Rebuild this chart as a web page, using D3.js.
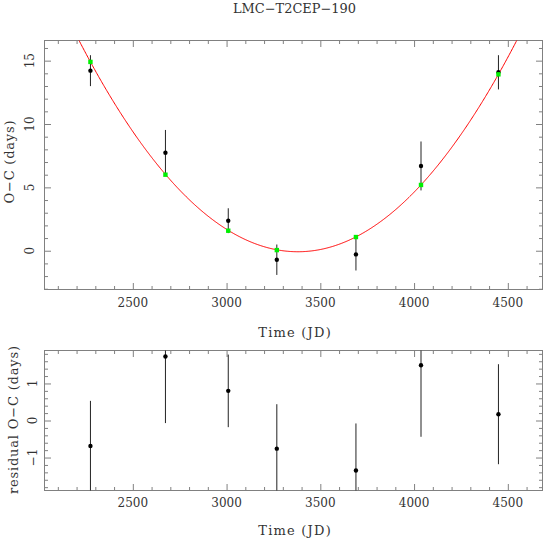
<!DOCTYPE html>
<html>
<head>
<meta charset="utf-8">
<script src="https://cdn.jsdelivr.net/npm/d3@7"></script>
<style>
  html, body { margin: 0; padding: 0; background: #fff; }
  svg text { font-family: "DejaVu Serif", serif; fill: #333; }
</style>
</head>
<body>
<svg id="chart" width="546" height="542"></svg>
<script>
// ---- data ----
const title = "LMC\u2212T2CEP\u2212190";
const times = [2274, 2674, 3009, 3268, 3690, 4037, 4450];          // JD
const ocValues = [14.21, 7.73, 2.37, -0.71, -0.29, 6.69, 14.08];   // O-C (days)
const ocErrors = [1.22, 1.80, 0.98, 1.20, 1.27, 1.93, 1.35];       // error bar half-length
const modelValues = [14.90, 6.00, 1.58, 0.05, 1.08, 5.19, 13.92];  // fitted values (green)
const residuals = [-0.69, 1.73, 0.80, -0.76, -1.35, 1.49, 0.17];   // residual O-C
const fitCoeffs = [1.2237e-5, 3380.4, -0.08];                      // a, x0, c : a*(t-x0)^2 + c
const xTickLabels = [2500, 3000, 3500, 4000, 4500];
const yTickLabelsTop = [0, 5, 10, 15];
const yTickLabelsBottom = [-1, 0, 1];

const svg = d3.select("#chart");
const L = 44.5, R = 542.5;
const x = d3.scaleLinear().domain([2029, 4685]).range([L, R]);
const yTop = d3.scaleLinear().domain([-3.06, 16.59]).range([289.5, 40.5]);
const yBot = d3.scaleLinear().domain([-1.89, 1.89]).range([490.5, 350.5]);

const frameColor = "#808080";

function drawFrame(y, majorY, minorY, clipId) {
  const [y0, y1] = y.range();
  const top = Math.min(y0, y1), bottom = Math.max(y0, y1);
  const g = svg.append("g");
  const majorX = d3.range(2500, 4685, 500);
  const minorX = d3.range(2100, 4685, 100).filter(v => v % 500 !== 0);
  const mk = (axis, vals, size) => axis.tickValues(vals).tickSize(-size).tickFormat("");
  const addAxis = (axis, transform) => {
    const a = g.append("g").attr("transform", transform).call(axis);
    a.select(".domain").remove();
    a.selectAll(".tick line").attr("stroke", frameColor).attr("stroke-width", 1);
    a.selectAll(".tick text").remove();
  };
  addAxis(mk(d3.axisBottom(x), majorX, 6.5), `translate(0,${bottom})`);
  addAxis(mk(d3.axisBottom(x), minorX, 3.5), `translate(0,${bottom})`);
  addAxis(mk(d3.axisTop(x), majorX, 6.5), `translate(0,${top})`);
  addAxis(mk(d3.axisTop(x), minorX, 3.5), `translate(0,${top})`);
  addAxis(mk(d3.axisLeft(y), majorY, 6.5), `translate(${L},0)`);
  addAxis(mk(d3.axisLeft(y), minorY, 3.5), `translate(${L},0)`);
  addAxis(mk(d3.axisRight(y), majorY, 6.5), `translate(${R},0)`);
  addAxis(mk(d3.axisRight(y), minorY, 3.5), `translate(${R},0)`);
  g.append("rect").attr("x", L).attr("y", top).attr("width", R - L).attr("height", bottom - top)
    .attr("fill", "none").attr("stroke", frameColor).attr("stroke-width", 1);
  svg.append("clipPath").attr("id", clipId).append("rect")
    .attr("x", L).attr("y", top).attr("width", R - L).attr("height", bottom - top);
  return { top, bottom };
}

// ---------- top panel ----------
drawFrame(yTop, d3.range(0, 16, 5), d3.range(-3, 17, 1).filter(v => v % 5 !== 0), "clipTop");

// fitted parabola
const curveT = d3.range(2029, 4686, 4);
const fitLine = d3.line()
  .x(t => x(t))
  .y(t => yTop(fitCoeffs[0] * (t - fitCoeffs[1]) ** 2 + fitCoeffs[2]));
svg.append("path").datum(curveT).attr("d", fitLine)
  .attr("fill", "none").attr("stroke", "#ff0000").attr("stroke-width", 1)
  .attr("clip-path", "url(#clipTop)");

const gTop = svg.append("g").attr("clip-path", "url(#clipTop)");
gTop.selectAll("line.err").data(times).join("line")
  .attr("x1", (t) => x(t)).attr("x2", (t) => x(t))
  .attr("y1", (t, i) => yTop(ocValues[i] - ocErrors[i]))
  .attr("y2", (t, i) => yTop(ocValues[i] + ocErrors[i]))
  .attr("stroke", "#222").attr("stroke-width", 1);
gTop.selectAll("circle.pt").data(times).join("circle")
  .attr("cx", t => x(t)).attr("cy", (t, i) => yTop(ocValues[i]))
  .attr("r", 2.2).attr("fill", "#000");
gTop.selectAll("rect.model").data(times).join("rect")
  .attr("x", t => x(t) - 2.2).attr("y", (t, i) => yTop(modelValues[i]) - 2.2)
  .attr("width", 4.4).attr("height", 4.4).attr("fill", "#00f000");

// ---------- bottom panel ----------
drawFrame(yBot, [-1, 0, 1], d3.range(-1.8, 1.81, 0.2).map(v => +v.toFixed(1)).filter(v => Math.abs(v % 1) > 1e-6), "clipBot");
const gBot = svg.append("g").attr("clip-path", "url(#clipBot)");
gBot.selectAll("line.err").data(times).join("line")
  .attr("x1", t => x(t)).attr("x2", t => x(t))
  .attr("y1", (t, i) => yBot(residuals[i] - ocErrors[i]))
  .attr("y2", (t, i) => yBot(residuals[i] + ocErrors[i]))
  .attr("stroke", "#222").attr("stroke-width", 1);
gBot.selectAll("circle.pt").data(times).join("circle")
  .attr("cx", t => x(t)).attr("cy", (t, i) => yBot(residuals[i]))
  .attr("r", 2.2).attr("fill", "#000");

// ---------- labels ----------
const fmtMinus = v => (v < 0 ? "\u2212" + Math.abs(v) : String(v));
function xLabels(baseline) {
  svg.append("g").selectAll("text").data(xTickLabels).join("text")
    .attr("x", v => x(v)).attr("y", baseline)
    .attr("text-anchor", "middle").attr("font-size", 12).text(v => v);
}
xLabels(307);
xLabels(506.5);

function yLabels(vals, y, bx) {
  svg.append("g").selectAll("text").data(vals).join("text")
    .attr("transform", v => `translate(${bx},${y(v)}) rotate(-90)`)
    .attr("text-anchor", "middle").attr("font-size", 12).text(fmtMinus);
}
yLabels(yTickLabelsTop, yTop, 33.5);
yLabels(yTickLabelsBottom, yBot, 36.5);

svg.append("text").attr("x", 294.5).attr("y", 12.5).attr("text-anchor", "middle")
  .attr("font-size", 12.5).attr("textLength", 123).attr("lengthAdjust", "spacingAndGlyphs").text(title);

svg.append("text").attr("x", 294.5).attr("y", 336.5).attr("text-anchor", "middle")
  .attr("font-size", 13).attr("textLength", 72.5).attr("lengthAdjust", "spacing").text("Time (JD)");
svg.append("text").attr("x", 294.5).attr("y", 535).attr("text-anchor", "middle")
  .attr("font-size", 13).attr("textLength", 72.5).attr("lengthAdjust", "spacing").text("Time (JD)");

svg.append("text").attr("transform", `translate(14,162) rotate(-90)`).attr("text-anchor", "middle")
  .attr("font-size", 13).attr("textLength", 83).attr("lengthAdjust", "spacing").text("O\u2212C (days)");
svg.append("text").attr("transform", `translate(17.5,420) rotate(-90)`).attr("text-anchor", "middle")
  .attr("font-size", 13).attr("textLength", 148).attr("lengthAdjust", "spacing").text("residual O\u2212C (days)");
</script>
</body>
</html>
